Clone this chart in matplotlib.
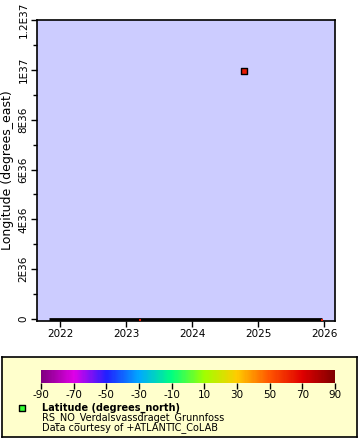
import matplotlib
matplotlib.use("Agg")
import matplotlib.pyplot as plt
import matplotlib.dates as mdates
import numpy as np
from matplotlib.colors import LinearSegmentedColormap, Normalize
import datetime as dt

plt.rcParams["axes.unicode_minus"] = False

# observation times (segment ends of the dense record) and longitudes
obs_time = ["2021-10-28", "2023-03-20", "2024-10-15", "2025-12-18"]
obs_lon = [11.52, 11.52, 11.52, 11.52]
obs_lat = [63.75, 63.75, 63.75, 63.75]
# fill-value outlier
out_time = ["2024-10-15"]
out_lon = [9.96921e36]
out_lat = [63.75]

ytick_vals = [0, 2e36, 4e36, 6e36, 8e36, 1e37, 1.2e37]
ytick_labs = ["0", "2E36", "4E36", "6E36", "8E36", "1E37", "1.2E37"]
cb_ticks = [-90, -70, -50, -30, -10, 10, 30, 50, 70, 90]

rainbow = ["#800080", "#e000e8", "#2020ff", "#00a8ff", "#00ff80",
           "#a0ff00", "#ffcc00", "#ff5500", "#e00000", "#800000"]
cmap = LinearSegmentedColormap.from_list("erd", rainbow)
norm = Normalize(-90, 90)

t_obs = [dt.datetime.fromisoformat(s) for s in obs_time]
t_out = [dt.datetime.fromisoformat(s) for s in out_time]

fig = plt.figure(figsize=(3.6, 4.4), dpi=100)
ax = fig.add_axes([37/360, 1-321/440, 298/360, 301/440])
ax.set_facecolor("#ccccff")
ax.plot(t_obs, obs_lon, color="black", lw=2, zorder=2, solid_capstyle="butt")
ax.scatter([t_obs[1], t_obs[3]], [-0.03e36, -0.03e36], marker="s", s=3,
           color=cmap(norm(obs_lat[1])), lw=0, zorder=3)
ax.scatter(t_out, out_lon, marker="s", s=22, c=[cmap(norm(v)) for v in out_lat],
           edgecolors="black", linewidths=1, zorder=4)

ax.set_xlim(dt.datetime(2021, 8, 25), dt.datetime(2026, 3, 2))
ax.set_ylim(-0.08e36, 1.2e37)
ax.xaxis.set_major_locator(mdates.YearLocator())
ax.xaxis.set_major_formatter(mdates.DateFormatter("%Y"))
ax.set_yticks(ytick_vals)
ax.set_yticklabels(ytick_labs, rotation=90, va="center")
ax.set_yticks([1e36, 3e36, 5e36, 7e36, 9e36, 1.1e37], minor=True)
ax.tick_params(labelsize=7.5, length=4, width=1, direction="out", pad=2)
ax.tick_params(which="minor", length=3, width=1)
for s in ax.spines.values():
    s.set_linewidth(1.2)
ax.set_ylabel("Longitude (degrees_east)", fontsize=9, labelpad=3)

# legend panel
lg = fig.add_axes([2/360, 3/440, 355/360, 80/440])
lg.set_facecolor("#ffffcc")
lg.set_xticks([]); lg.set_yticks([])
for s in lg.spines.values():
    s.set_linewidth(1.2)
lg.set_xlim(0, 355); lg.set_ylim(80, 0)
lg.scatter([20], [51], marker="s", s=22, color="#33ff33", edgecolors="black", linewidths=1)
lg.text(40, 51, "Latitude (degrees_north)", fontsize=7, fontweight="bold", va="center")
lg.text(40, 61, "RS_NO_Verdalsvassdraget_Grunnfoss", fontsize=7, va="center")
lg.text(40, 71, "Data courtesy of +ATLANTIC_CoLAB", fontsize=7, va="center")

cax = fig.add_axes([41/360, 1-383/440, 294/360, 13/440])
cb = fig.colorbar(plt.cm.ScalarMappable(norm=norm, cmap=cmap), cax=cax,
                  orientation="horizontal", ticks=cb_ticks)
cb.outline.set_visible(False)
cax.tick_params(labelsize=7.5, length=4, width=1, pad=1)

fig.savefig("out.png", dpi=100)
